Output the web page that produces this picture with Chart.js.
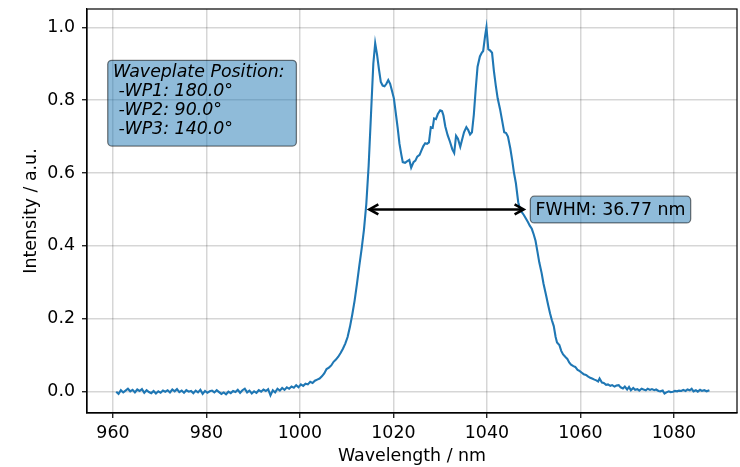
<!DOCTYPE html>
<html>
<head>
<meta charset="utf-8">
<script src="https://cdn.jsdelivr.net/npm/chart.js@4.4.1/dist/chart.umd.min.js"></script>
<style>
  body { margin: 0; background: #fff; }
</style>
</head>
<body>
<canvas id="spectrumChart" width="740" height="467"></canvas>
<script>
// spectrum
const wavelength = [
  960.7, 961.2, 961.7, 962.2, 962.7, 963.2, 963.7, 964.2, 964.7, 965.2, 965.7, 966.2, 966.7, 967.2, 967.7,
  968.2, 968.7, 969.2, 969.7, 970.2, 970.7, 971.2, 971.7, 972.2, 972.7, 973.2, 973.7, 974.2, 974.7, 975.2,
  975.7, 976.2, 976.7, 977.2, 977.7, 978.2, 978.7, 979.2, 979.7, 980.2, 980.7, 981.2, 981.7, 982.2, 982.7,
  983.2, 983.7, 984.2, 984.7, 985.2, 985.7, 986.2, 986.7, 987.2, 987.7, 988.2, 988.7, 989.2, 989.7, 990.2,
  990.7, 991.2, 991.7, 992.2, 992.7, 993.2, 993.7, 994.2, 994.7, 995.2, 995.7, 996.2, 996.7, 997.2, 997.7,
  998.2, 998.7, 999.2, 999.7, 1000.2, 1000.7, 1001.2, 1001.7, 1002.2, 1002.7, 1003.2, 1003.7, 1004.2, 1004.7,
  1005.2, 1005.7, 1006.2, 1006.7, 1007.2, 1007.7, 1008.2, 1008.7, 1009.2, 1009.7, 1010.2, 1010.7, 1011.2,
  1011.7, 1012.2, 1012.7, 1013.2, 1013.7, 1014.2, 1014.7, 1015.2, 1015.7, 1016.1, 1016.5, 1016.9, 1017.3,
  1017.7, 1018.1, 1018.5, 1018.9, 1019.3, 1019.7, 1020.1, 1020.5, 1020.9, 1021.3, 1021.7, 1022.0, 1022.5,
  1022.9, 1023.4, 1023.8, 1024.3, 1024.7, 1025.1, 1025.6, 1026.0, 1026.4, 1026.8, 1027.2, 1027.6, 1028.0,
  1028.4, 1028.7, 1029.1, 1029.5, 1030.0, 1030.4, 1030.7, 1031.1, 1031.6, 1032.1, 1032.6, 1033.0, 1033.4,
  1033.8, 1034.3, 1034.7, 1035.1, 1035.6, 1036.0, 1036.4, 1036.8, 1037.2, 1037.6, 1038.0, 1038.5, 1038.9,
  1039.2, 1039.6, 1039.9, 1040.3, 1040.7, 1041.1, 1041.5, 1041.9, 1042.3, 1042.8, 1043.2, 1043.7, 1044.1,
  1044.5, 1045.0, 1045.4, 1045.8, 1046.2, 1046.7, 1047.1, 1047.5, 1047.9, 1048.4, 1048.8, 1049.2, 1049.6,
  1050.0, 1050.4, 1050.8, 1051.2, 1051.7, 1052.1, 1052.6, 1053.1, 1053.5, 1053.9, 1054.3, 1054.7, 1055.0,
  1055.5, 1055.9, 1056.3, 1056.8, 1057.2, 1057.6, 1058.0, 1058.5, 1058.9, 1059.4, 1059.8, 1060.3, 1060.7,
  1061.2, 1061.6, 1062.1, 1062.5, 1063.0, 1063.4, 1063.8, 1064.1, 1064.6, 1065.0, 1065.5, 1065.9, 1066.4,
  1066.8, 1067.3, 1067.7, 1068.2, 1068.6, 1069.1, 1069.5, 1070.0, 1070.4, 1070.8, 1071.3, 1071.7, 1072.2,
  1072.6, 1073.1, 1073.5, 1074.0, 1074.4, 1074.9, 1075.3, 1075.8, 1076.2, 1076.7, 1077.1, 1077.6, 1078.0,
  1078.4, 1078.9, 1079.3, 1079.8, 1080.2, 1080.7, 1081.1, 1081.6, 1082.0, 1082.5, 1082.9, 1083.4, 1083.8,
  1084.2, 1084.7, 1085.1, 1085.6, 1086.0, 1086.5, 1087.0, 1087.6
];
const intensity = [
  0.000, -0.006, 0.004, -0.002, 0.003, 0.008, 0.001, 0.005, -0.002, 0.006, 0.002, 0.007, -0.003, 0.004, -0.001,
  -0.004, 0.002, -0.005, 0.001, -0.003, 0.003, 0.000, 0.004, -0.002, 0.006, 0.001, 0.007, -0.001, 0.003, -0.003,
  0.004, 0.000, 0.002, -0.004, 0.003, -0.002, 0.005, -0.006, 0.002, -0.003, 0.001, 0.003, -0.002, 0.004, -0.001,
  -0.006, -0.002, -0.007, 0.000, -0.004, 0.002, -0.001, 0.005, -0.003, 0.004, 0.008, -0.002, 0.003, -0.005, 0.001,
  -0.003, 0.004, 0.000, 0.006, 0.002, 0.007, -0.010, 0.004, -0.002, 0.008, 0.003, 0.010, 0.005, 0.012, 0.008,
  0.014, 0.011, 0.018, 0.012, 0.020, 0.016, 0.022, 0.020, 0.027, 0.024, 0.030, 0.033, 0.036, 0.042,
  0.050, 0.062, 0.066, 0.072, 0.082, 0.088, 0.096, 0.106, 0.118, 0.132, 0.150, 0.178, 0.212,
  0.250, 0.296, 0.345, 0.392, 0.445, 0.515, 0.620, 0.760, 0.900, 0.956, 0.925, 0.885, 0.850,
  0.840, 0.838, 0.845, 0.855, 0.845, 0.825, 0.805, 0.765, 0.725, 0.680, 0.650, 0.630, 0.628,
  0.632, 0.636, 0.615, 0.630, 0.634, 0.645, 0.650, 0.662, 0.674, 0.682, 0.680, 0.684, 0.726,
  0.724, 0.750, 0.748, 0.762, 0.772, 0.770, 0.758, 0.728, 0.704, 0.686, 0.665, 0.655, 0.702,
  0.694, 0.672, 0.692, 0.712, 0.726, 0.718, 0.706, 0.712, 0.760, 0.830, 0.892, 0.920, 0.930,
  0.935, 0.975, 1.000, 0.940, 0.936, 0.930, 0.880, 0.840, 0.805, 0.776, 0.748, 0.712, 0.710,
  0.700, 0.668, 0.636, 0.600, 0.572, 0.520, 0.500, 0.492, 0.485, 0.474, 0.465, 0.455, 0.447,
  0.432, 0.414, 0.385, 0.355, 0.326, 0.297, 0.268, 0.238, 0.215, 0.196, 0.180, 0.150, 0.135,
  0.128, 0.112, 0.102, 0.095, 0.090, 0.080, 0.074, 0.070, 0.068, 0.060, 0.057, 0.052, 0.048,
  0.046, 0.042, 0.038, 0.036, 0.033, 0.031, 0.028, 0.036, 0.025, 0.024, 0.019, 0.020, 0.016,
  0.018, 0.014, 0.017, 0.018, 0.012, 0.009, 0.014, 0.006, 0.013, 0.004, 0.010, 0.005, 0.007,
  0.003, 0.008, 0.006, 0.004, 0.008, 0.005, 0.007, 0.004, 0.006, 0.002, 0.001, 0.003, -0.005,
  -0.002, 0.001, -0.001, 0.000, 0.002, 0.001, 0.003, 0.002, 0.005, 0.002, 0.006, 0.004, 0.008,
  0.001, 0.004, 0.000, 0.005, 0.002, 0.004, 0.001, 0.004
];

const xTicks = [960, 980, 1000, 1020, 1040, 1060, 1080];
const yTicks = [0.0, 0.2, 0.4, 0.6, 0.8, 1.0];

const fwhmBounds = [1014.85, 1047.85];
const fwhmLevel = 0.5;
const fwhmLabel = "FWHM: 36.77 nm";
const fwhmLabelX = 1050.4;

const waveplateLines = ["Waveplate Position:", " -WP1: 180.0°", " -WP2: 90.0°", " -WP3: 140.0°"];
const waveplateAnchor = [960, 0.895];

const FONT = '"DejaVu Sans", "Liberation Sans", sans-serif';
const FONT_SIZE = 17.4;
const BOX_FILL = "rgba(31, 119, 180, 0.5)";
const BOX_EDGE = "rgba(0, 0, 0, 0.5)";

function roundRect(ctx, x, y, w, h, r) {
    ctx.beginPath();
    ctx.moveTo(x + r, y);
    ctx.lineTo(x + w - r, y);
    ctx.arcTo(x + w, y, x + w, y + r, r);
    ctx.lineTo(x + w, y + h - r);
    ctx.arcTo(x + w, y + h, x + w - r, y + h, r);
    ctx.lineTo(x + r, y + h);
    ctx.arcTo(x, y + h, x, y + h - r, r);
    ctx.lineTo(x, y + r);
    ctx.arcTo(x, y, x + r, y, r);
    ctx.closePath();
}

function drawHead(ctx, tipX, tipY, dir) {
    // dir = -1 points left, 1 points right
    ctx.beginPath();
    ctx.moveTo(tipX - dir * 9, tipY - 5);
    ctx.lineTo(tipX, tipY);
    ctx.lineTo(tipX - dir * 9, tipY + 5);
    ctx.stroke();
}

const annotationPlugin = {
    id: "annotations",
    afterDatasetsDraw(chart) {
        const { ctx, scales: { x, y } } = chart;
        ctx.save();

        // double headed FWHM arrow
        const ay = y.getPixelForValue(fwhmLevel);
        const ax1 = x.getPixelForValue(fwhmBounds[0]);
        const ax2 = x.getPixelForValue(fwhmBounds[1]);
        ctx.strokeStyle = "#000";
        ctx.lineWidth = 2.6;
        ctx.lineJoin = "miter";
        ctx.beginPath();
        ctx.moveTo(ax1 + 1, ay);
        ctx.lineTo(ax2 - 1, ay);
        ctx.stroke();
        drawHead(ctx, ax1, ay, -1);
        drawHead(ctx, ax2, ay, 1);

        ctx.lineWidth = 1.3;

        // FWHM label box
        ctx.font = `${FONT_SIZE}px ${FONT}`;
        const tx = x.getPixelForValue(fwhmLabelX);
        const tw = ctx.measureText(fwhmLabel).width;
        roundRect(ctx, tx - 5.2, ay - 13.3, tw + 10.4, 26.7, 4);
        ctx.fillStyle = BOX_FILL;
        ctx.fill();
        ctx.strokeStyle = BOX_EDGE;
        ctx.stroke();
        ctx.fillStyle = "#000";
        ctx.textBaseline = "middle";
        ctx.textAlign = "left";
        ctx.fillText(fwhmLabel, tx, ay + 0.5);

        // waveplate info box
        ctx.font = `italic ${FONT_SIZE}px ${FONT}`;
        const wx = x.getPixelForValue(waveplateAnchor[0]);
        const wy = y.getPixelForValue(waveplateAnchor[1]);
        const ww = Math.max(...waveplateLines.map(t => ctx.measureText(t).width));
        const lineStep = 19.2;
        const bh = 11.7 + lineStep * (waveplateLines.length - 1) + 16.4;
        roundRect(ctx, wx - 5.2, wy - 5.2, ww + 17, bh, 4);
        ctx.fillStyle = BOX_FILL;
        ctx.fill();
        ctx.strokeStyle = BOX_EDGE;
        ctx.stroke();
        ctx.fillStyle = "#000";
        waveplateLines.forEach((t, i) => {
            ctx.fillText(t, wx, wy - 5.2 + 11.7 + i * lineStep);
        });

        ctx.restore();
    },
    afterDraw(chart) {
        // full axes frame like matplotlib spines
        const { ctx, chartArea: a } = chart;
        ctx.save();
        ctx.strokeStyle = "#000";
        ctx.lineWidth = 1.2;
        ctx.strokeRect(a.left, a.top, a.right - a.left, a.bottom - a.top);
        ctx.restore();
    }
};

const ctx = document.getElementById("spectrumChart").getContext("2d");

new Chart(ctx, {
    type: "line",
    data: {
        datasets: [{
            data: wavelength.map((w, i) => ({ x: w, y: intensity[i] })),
            borderColor: "#1f77b4",
            borderWidth: 2.1,
            pointRadius: 0,
            tension: 0,
            fill: false
        }]
    },
    options: {
        responsive: false,
        animation: false,
        layout: { padding: { top: 9, right: 3, left: 0, bottom: 0 } },
        plugins: {
            legend: { display: false },
            tooltip: { enabled: false }
        },
        scales: {
            x: {
                type: "linear",
                min: 954.45,
                max: 1093.5,
                afterFit: axis => {
                    axis.height = 54;
                    axis.paddingLeft = 0;
                    axis.paddingRight = 0;
                },
                afterBuildTicks: axis => { axis.ticks = xTicks.map(v => ({ value: v })); },
                ticks: {
                    color: "#000",
                    padding: 5,
                    maxRotation: 0,
                    font: { family: FONT, size: FONT_SIZE },
                    callback: v => String(v)
                },
                grid: {
                    color: "rgba(0, 0, 0, 0.16)",
                    lineWidth: 1.5,
                    tickColor: "#000",
                    tickWidth: 1.2,
                    tickLength: 5
                },
                border: { color: "#000", width: 1.2 },
                title: {
                    display: true,
                    text: "Wavelength / nm",
                    color: "#000",
                    font: { family: FONT, size: FONT_SIZE },
                    padding: { top: 0, bottom: 0 }
                }
            },
            y: {
                min: -0.0585,
                max: 1.0502,
                afterFit: axis => {
                    axis.width = 87;
                    axis.paddingTop = 0;
                    axis.paddingBottom = 0;
                },
                afterBuildTicks: axis => { axis.ticks = yTicks.map(v => ({ value: v })); },
                ticks: {
                    color: "#000",
                    padding: 7,
                    font: { family: FONT, size: FONT_SIZE },
                    callback: v => v.toFixed(1)
                },
                grid: {
                    color: "rgba(0, 0, 0, 0.16)",
                    lineWidth: 1.5,
                    tickColor: "#000",
                    tickWidth: 1.2,
                    tickLength: 5
                },
                border: { color: "#000", width: 1.2 },
                title: {
                    display: true,
                    text: "Intensity / a.u.",
                    color: "#000",
                    font: { family: FONT, size: FONT_SIZE },
                    padding: { top: 21, bottom: 0 }
                }
            }
        }
    },
    plugins: [annotationPlugin]
});
</script>
</body>
</html>
